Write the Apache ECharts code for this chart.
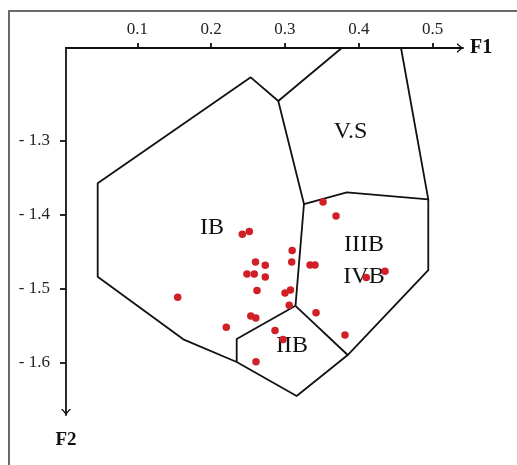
<!DOCTYPE html>
<html>
<head>
<meta charset="utf-8">
<title>F1-F2 discrimination diagram</title>
<script src="https://cdn.jsdelivr.net/npm/echarts@6/dist/echarts.min.js"></script>
<style>
  html, body { margin: 0; padding: 0; background: #fff; }
  #chart { position: absolute; left: 0; top: 0; width: 517px; height: 465px; }
  #frame { position: absolute; left: 8px; top: 10px; width: 515px; height: 460px;
           border-left: 2px solid #6a6a6a; border-top: 2px solid #6a6a6a; pointer-events: none; }
</style>
</head>
<body>
<div id="chart"></div>
<div id="frame"></div>
<script>
// tick values
var xTicks = [0.1, 0.2, 0.3, 0.4, 0.5];
var yTicks = [-1.3, -1.4, -1.5, -1.6];

// field boundaries [F1, F2]
var outerLine = [
  [0.3768, -1.1739], [0.2909, -1.2458], [0.2536, -1.2137], [0.0464, -1.3573],
  [0.0464, -1.4840], [0.1623, -1.5688], [0.2346, -1.5996], [0.3158, -1.6457],
  [0.3849, -1.5901], [0.4940, -1.4749], [0.4940, -1.3790], [0.4571, -1.1739]
];
var vsLine = [[0.2909, -1.2458], [0.3257, -1.3854], [0.3836, -1.3695], [0.4940, -1.3790]];
var ibLine = [[0.3257, -1.3854], [0.3142, -1.5234]];
var iibLeftLine = [[0.3142, -1.5234], [0.2346, -1.5684], [0.2346, -1.5996]];
var iibRightLine = [[0.3142, -1.5234], [0.3849, -1.5901]];

// samples
var sampleF1 = [0.2422, 0.2517, 0.3097, 0.2601, 0.2733, 0.3091, 0.3339, 0.3406, 0.2485, 0.2584,
                0.2733, 0.2621, 0.3000, 0.3074, 0.3057, 0.2537, 0.2605, 0.2205, 0.2865, 0.2973,
                0.2607, 0.3420, 0.3812, 0.3515, 0.3691, 0.4100, 0.4354, 0.1547];
var sampleF2 = [-1.4265, -1.4227, -1.4484, -1.4640, -1.4684, -1.4640, -1.4681, -1.4681, -1.4803, -1.4803,
                -1.4844, -1.5027, -1.5060, -1.5020, -1.5227, -1.5372, -1.5399, -1.5524, -1.5567, -1.5692,
                -1.5992, -1.5328, -1.5630, -1.3827, -1.4017, -1.4850, -1.4766, -1.5119];

// field names
var regionNames = ["IB", "V.S", "IIIB", "IVB", "IIB"];
var regionF1 = [0.2012, 0.3887, 0.4070, 0.4070, 0.3095];
var regionF2 = [-1.4179, -1.2878, -1.4403, -1.4837, -1.5776];

var chart = echarts.init(document.getElementById("chart"));

var serif = "Liberation Serif";
var arrowPath = "path://M0,6 L5,0 L10,6 L8.3,6 L5,2 L1.7,6 Z";
var lineStyle = { color: "#111", width: 1.8 };

function boundary(points) {
  return {
    type: "line",
    data: points,
    symbol: "none",
    silent: true,
    lineStyle: lineStyle,
    z: 2
  };
}

var option = {
  animation: false,
  grid: { left: 66, top: 48, width: 397, height: 367 },
  xAxis: {
    type: "value",
    position: "top",
    min: 0.0035,
    max: 0.541,
    name: "F1",
    nameLocation: "end",
    nameGap: 7,
    nameTextStyle: { fontFamily: serif, fontWeight: "bold", fontSize: 20, color: "#111" },
    splitLine: { show: false },
    axisLine: {
      onZero: false,
      lineStyle: lineStyle,
      symbol: ["none", arrowPath],
      symbolSize: [10, 6],
      symbolOffset: [0, -3]
    },
    axisTick: { customValues: xTicks, length: 5, lineStyle: lineStyle },
    axisLabel: {
      customValues: xTicks,
      margin: 10,
      fontFamily: serif,
      fontSize: 17,
      color: "#222",
      formatter: function (v) { return v.toFixed(1); }
    }
  },
  yAxis: {
    type: "value",
    min: -1.6714,
    max: -1.1739,
    name: "F2",
    nameLocation: "start",
    nameGap: 16,
    nameTextStyle: { fontFamily: serif, fontWeight: "bold", fontSize: 19, color: "#111" },
    splitLine: { show: false },
    axisLine: {
      onZero: false,
      lineStyle: lineStyle,
      symbol: [arrowPath, "none"],
      symbolSize: [10, 6],
      symbolOffset: [3, 0]
    },
    axisTick: { customValues: yTicks, length: 6, lineStyle: lineStyle },
    axisLabel: {
      customValues: yTicks,
      margin: 16,
      fontFamily: serif,
      fontSize: 17,
      color: "#222",
      formatter: function (v) { return "- " + Math.abs(v).toFixed(1); }
    }
  },
  series: [
    boundary(outerLine),
    boundary(vsLine),
    boundary(ibLine),
    boundary(iibLeftLine),
    boundary(iibRightLine),
    {
      type: "scatter",
      symbolSize: 0,
      silent: true,
      z: 1,
      itemStyle: { color: "#111", opacity: 1 },
      label: {
        show: true,
        position: "inside",
        formatter: "{b}",
        fontFamily: serif,
        fontSize: 24,
        color: "#111",
        opacity: 1,
        textBorderWidth: 0
      },
      data: regionNames.map(function (n, i) { return { name: n, value: [regionF1[i], regionF2[i]] }; })
    },
    {
      type: "scatter",
      symbolSize: 7.5,
      itemStyle: { color: "#d11f28", opacity: 1 },
      z: 5,
      data: sampleF1.map(function (x, i) { return [x, sampleF2[i]]; })
    }
  ]
};

chart.setOption(option);
</script>
</body>
</html>
